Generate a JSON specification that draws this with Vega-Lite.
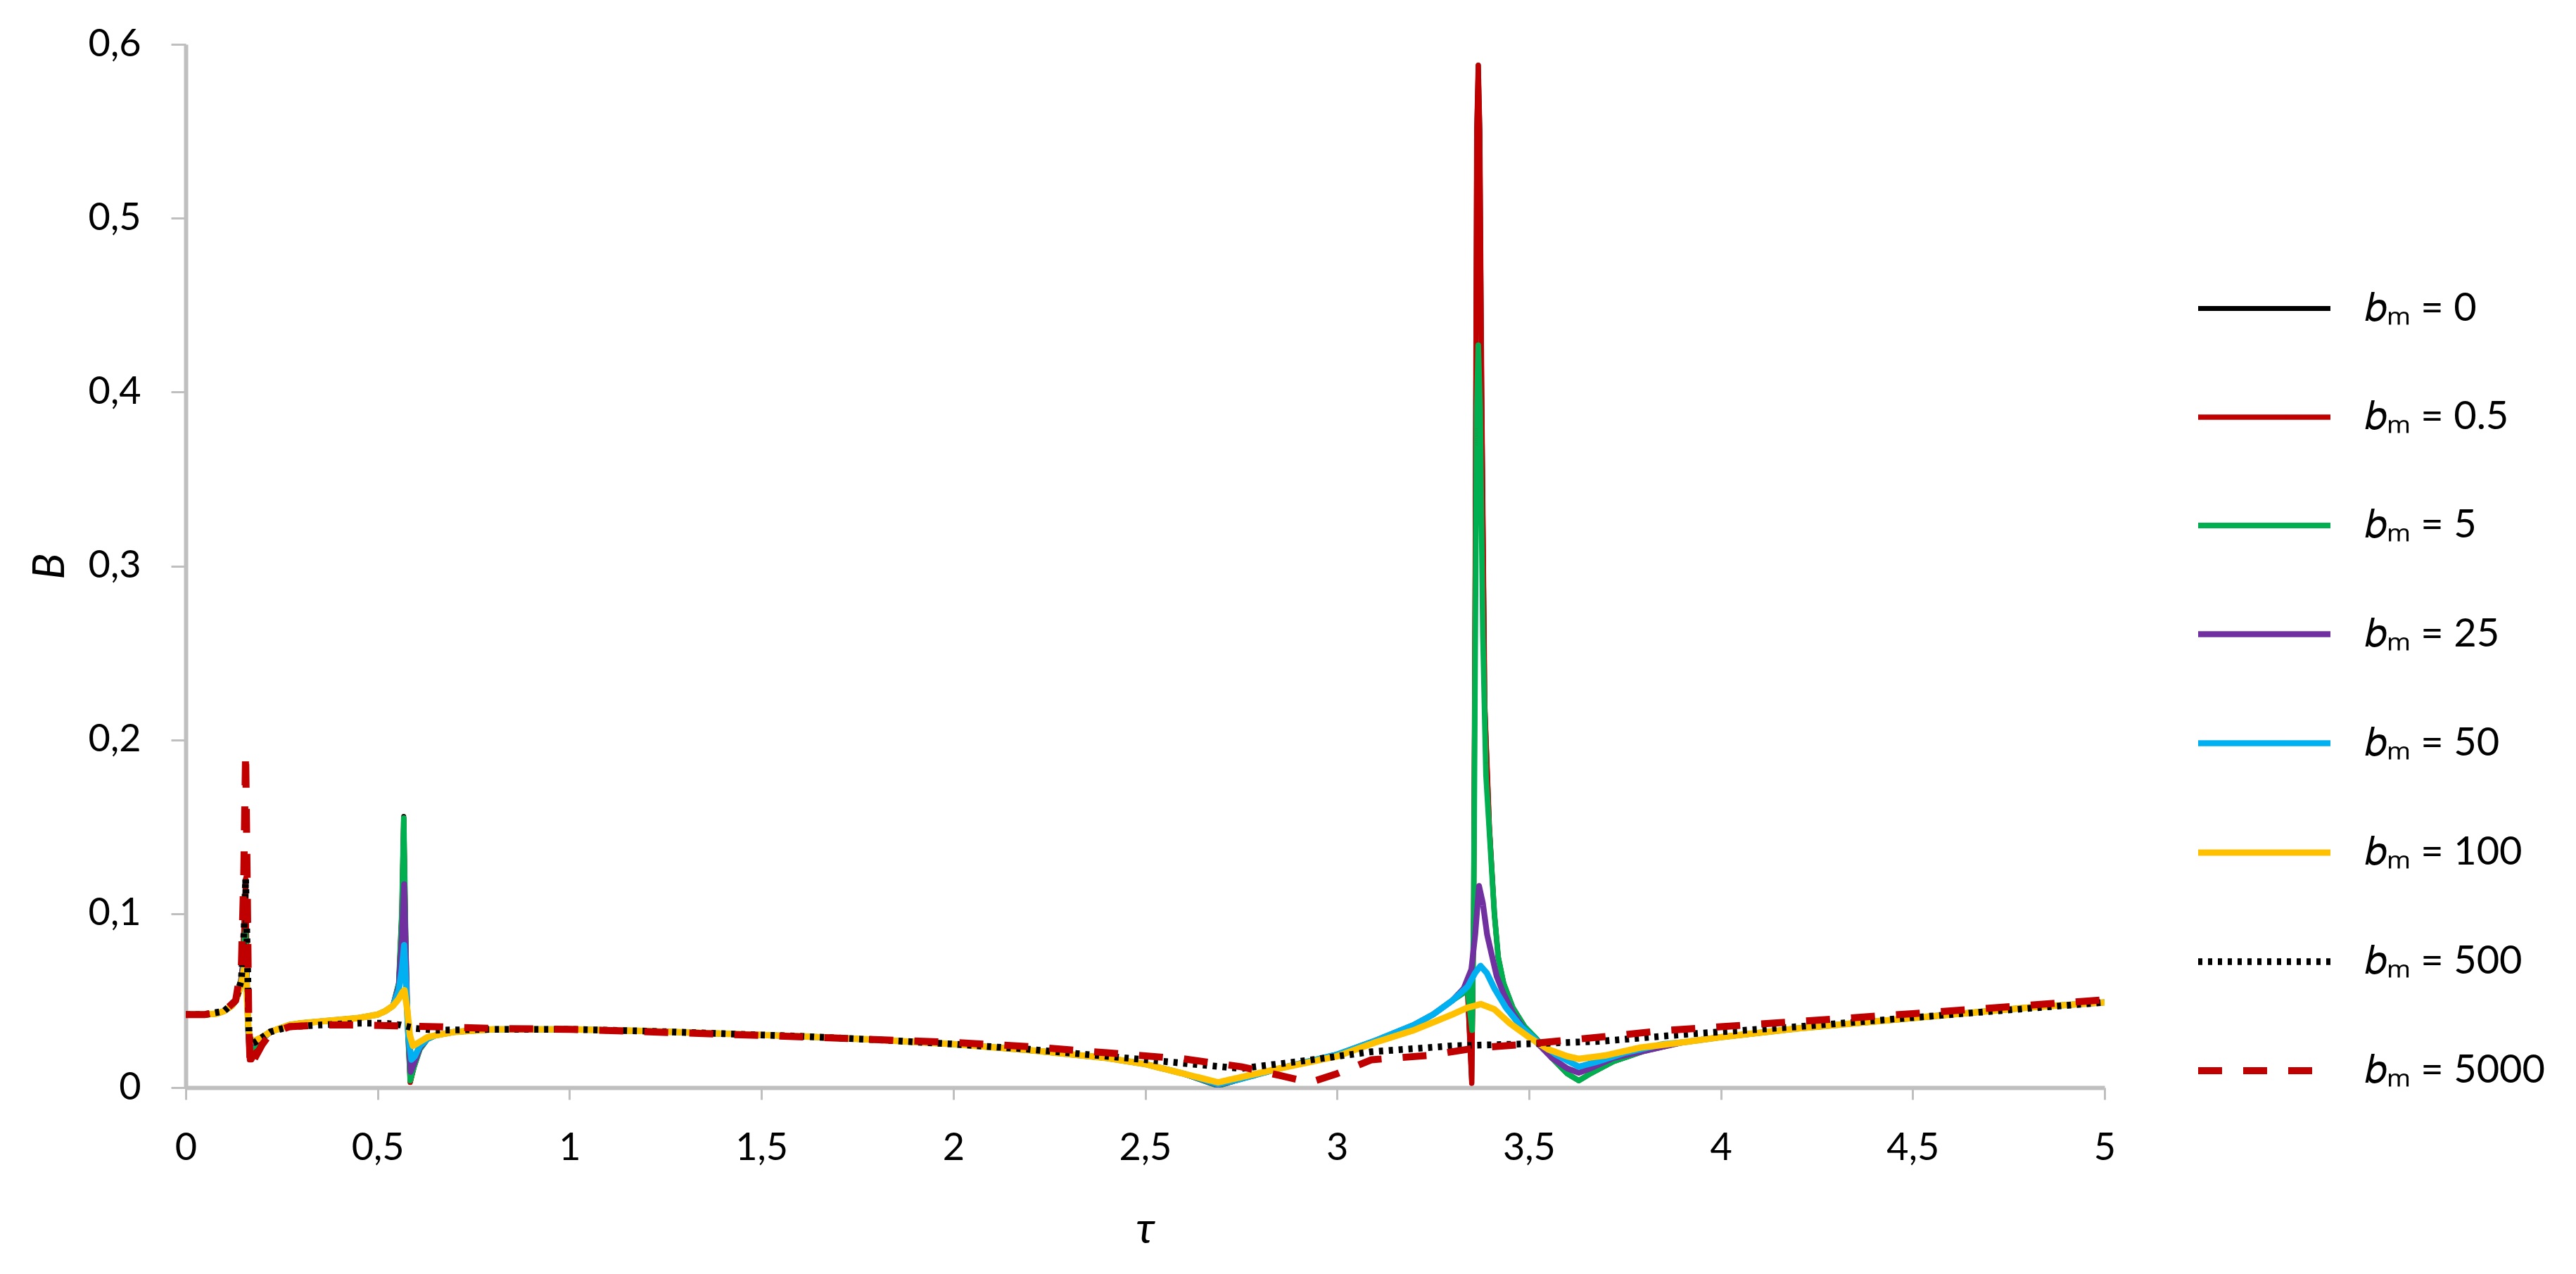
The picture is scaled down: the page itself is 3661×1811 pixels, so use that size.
{
"$schema":"https://vega.github.io/schema/vega-lite/v6.json",
"autosize":{"type":"none"},
"padding":{"left":264,"top":63,"right":670,"bottom":265},
"width":2727,"height":1483,
"background":"white",
"config":{"view":{"stroke":null},"font":"Lato"},
"data":{"values":[
{"s":"0","t":0,"B":0.042},{"s":"0","t":0.05,"B":0.042},{"s":"0","t":0.08,"B":0.0425},{"s":"0","t":0.1,"B":0.044},{"s":"0","t":0.12,"B":0.047},{"s":"0","t":0.13,"B":0.05},{"s":"0","t":0.14,"B":0.056},{"s":"0","t":0.148,"B":0.07},{"s":"0","t":0.153,"B":0.1},{"s":"0","t":0.156,"B":0.12},{"s":"0","t":0.159,"B":0.08},{"s":"0","t":0.162,"B":0.035},{"s":"0","t":0.166,"B":0.016},{"s":"0","t":0.172,"B":0.016},{"s":"0","t":0.18,"B":0.02},{"s":"0","t":0.19,"B":0.024},{"s":"0","t":0.21,"B":0.03},{"s":"0","t":0.23,"B":0.033},{"s":"0","t":0.27,"B":0.036},{"s":"0","t":0.3,"B":0.037},{"s":"0","t":0.35,"B":0.038},{"s":"0","t":0.4,"B":0.039},{"s":"0","t":0.45,"B":0.04},{"s":"0","t":0.5,"B":0.042},{"s":"0","t":0.52,"B":0.044},{"s":"0","t":0.54,"B":0.047},{"s":"0","t":0.555,"B":0.06},{"s":"0","t":0.563,"B":0.1},{"s":"0","t":0.568,"B":0.156},{"s":"0","t":0.572,"B":0.1},{"s":"0","t":0.577,"B":0.04},{"s":"0","t":0.585,"B":0.003},{"s":"0","t":0.595,"B":0.012},{"s":"0","t":0.61,"B":0.022},{"s":"0","t":0.63,"B":0.028},{"s":"0","t":0.65,"B":0.03},{"s":"0","t":0.7,"B":0.032},{"s":"0","t":0.8,"B":0.0335},{"s":"0","t":1.0,"B":0.0335},{"s":"0","t":1.2,"B":0.0325},{"s":"0","t":1.4,"B":0.031},{"s":"0","t":1.6,"B":0.0295},{"s":"0","t":1.8,"B":0.0275},{"s":"0","t":2.0,"B":0.025},{"s":"0","t":2.2,"B":0.0215},{"s":"0","t":2.4,"B":0.017},{"s":"0","t":2.5,"B":0.0135},{"s":"0","t":2.6,"B":0.008},{"s":"0","t":2.69,"B":0.001},{"s":"0","t":2.75,"B":0.005},{"s":"0","t":2.85,"B":0.011},{"s":"0","t":3.0,"B":0.019},{"s":"0","t":3.1,"B":0.027},{"s":"0","t":3.2,"B":0.036},{"s":"0","t":3.25,"B":0.042},{"s":"0","t":3.3,"B":0.05},{"s":"0","t":3.34,"B":0.056},{"s":"0","t":3.351,"B":0.0025},{"s":"0","t":3.356,"B":0.1},{"s":"0","t":3.36,"B":0.3},{"s":"0","t":3.364,"B":0.55},{"s":"0","t":3.368,"B":0.588},{"s":"0","t":3.372,"B":0.55},{"s":"0","t":3.377,"B":0.4},{"s":"0","t":3.385,"B":0.22},{"s":"0","t":3.397,"B":0.15},{"s":"0","t":3.41,"B":0.1},{"s":"0","t":3.42,"B":0.075},{"s":"0","t":3.434,"B":0.06},{"s":"0","t":3.458,"B":0.046},{"s":"0","t":3.489,"B":0.035},{"s":"0","t":3.52,"B":0.028},{"s":"0","t":3.56,"B":0.017},{"s":"0","t":3.6,"B":0.008},{"s":"0","t":3.63,"B":0.004},{"s":"0","t":3.66,"B":0.008},{"s":"0","t":3.72,"B":0.015},{"s":"0","t":3.8,"B":0.021},{"s":"0","t":3.9,"B":0.026},{"s":"0","t":4.0,"B":0.029},{"s":"0","t":4.2,"B":0.034},{"s":"0","t":4.4,"B":0.038},{"s":"0","t":4.6,"B":0.042},{"s":"0","t":4.8,"B":0.046},{"s":"0","t":5.0,"B":0.049},

{"s":"0.5","t":0,"B":0.042},{"s":"0.5","t":0.05,"B":0.042},{"s":"0.5","t":0.08,"B":0.0425},{"s":"0.5","t":0.1,"B":0.044},{"s":"0.5","t":0.12,"B":0.047},{"s":"0.5","t":0.13,"B":0.05},{"s":"0.5","t":0.14,"B":0.056},{"s":"0.5","t":0.148,"B":0.07},{"s":"0.5","t":0.153,"B":0.1},{"s":"0.5","t":0.156,"B":0.12},{"s":"0.5","t":0.159,"B":0.08},{"s":"0.5","t":0.162,"B":0.035},{"s":"0.5","t":0.166,"B":0.016},{"s":"0.5","t":0.172,"B":0.016},{"s":"0.5","t":0.18,"B":0.02},{"s":"0.5","t":0.19,"B":0.024},{"s":"0.5","t":0.21,"B":0.03},{"s":"0.5","t":0.23,"B":0.033},{"s":"0.5","t":0.27,"B":0.036},{"s":"0.5","t":0.3,"B":0.037},{"s":"0.5","t":0.35,"B":0.038},{"s":"0.5","t":0.4,"B":0.039},{"s":"0.5","t":0.45,"B":0.04},{"s":"0.5","t":0.5,"B":0.042},{"s":"0.5","t":0.52,"B":0.044},{"s":"0.5","t":0.54,"B":0.047},{"s":"0.5","t":0.555,"B":0.06},{"s":"0.5","t":0.563,"B":0.1},{"s":"0.5","t":0.568,"B":0.155},{"s":"0.5","t":0.572,"B":0.1},{"s":"0.5","t":0.577,"B":0.04},{"s":"0.5","t":0.585,"B":0.003},{"s":"0.5","t":0.595,"B":0.012},{"s":"0.5","t":0.61,"B":0.022},{"s":"0.5","t":0.63,"B":0.028},{"s":"0.5","t":0.65,"B":0.03},{"s":"0.5","t":0.7,"B":0.032},{"s":"0.5","t":0.8,"B":0.0335},{"s":"0.5","t":1.0,"B":0.0335},{"s":"0.5","t":1.2,"B":0.0325},{"s":"0.5","t":1.4,"B":0.031},{"s":"0.5","t":1.6,"B":0.0295},{"s":"0.5","t":1.8,"B":0.0275},{"s":"0.5","t":2.0,"B":0.025},{"s":"0.5","t":2.2,"B":0.0215},{"s":"0.5","t":2.4,"B":0.017},{"s":"0.5","t":2.5,"B":0.0135},{"s":"0.5","t":2.6,"B":0.008},{"s":"0.5","t":2.69,"B":0.001},{"s":"0.5","t":2.75,"B":0.005},{"s":"0.5","t":2.85,"B":0.011},{"s":"0.5","t":3.0,"B":0.019},{"s":"0.5","t":3.1,"B":0.027},{"s":"0.5","t":3.2,"B":0.036},{"s":"0.5","t":3.25,"B":0.042},{"s":"0.5","t":3.3,"B":0.05},{"s":"0.5","t":3.34,"B":0.056},{"s":"0.5","t":3.351,"B":0.0025},{"s":"0.5","t":3.356,"B":0.1},{"s":"0.5","t":3.36,"B":0.3},{"s":"0.5","t":3.364,"B":0.55},{"s":"0.5","t":3.368,"B":0.588},{"s":"0.5","t":3.372,"B":0.55},{"s":"0.5","t":3.377,"B":0.4},{"s":"0.5","t":3.385,"B":0.22},{"s":"0.5","t":3.397,"B":0.15},{"s":"0.5","t":3.41,"B":0.1},{"s":"0.5","t":3.42,"B":0.075},{"s":"0.5","t":3.434,"B":0.06},{"s":"0.5","t":3.458,"B":0.046},{"s":"0.5","t":3.489,"B":0.035},{"s":"0.5","t":3.52,"B":0.028},{"s":"0.5","t":3.56,"B":0.017},{"s":"0.5","t":3.6,"B":0.008},{"s":"0.5","t":3.63,"B":0.004},{"s":"0.5","t":3.66,"B":0.008},{"s":"0.5","t":3.72,"B":0.015},{"s":"0.5","t":3.8,"B":0.021},{"s":"0.5","t":3.9,"B":0.026},{"s":"0.5","t":4.0,"B":0.029},{"s":"0.5","t":4.2,"B":0.034},{"s":"0.5","t":4.4,"B":0.038},{"s":"0.5","t":4.6,"B":0.042},{"s":"0.5","t":4.8,"B":0.046},{"s":"0.5","t":5.0,"B":0.049},

{"s":"5","t":0,"B":0.042},{"s":"5","t":0.05,"B":0.042},{"s":"5","t":0.08,"B":0.0425},{"s":"5","t":0.1,"B":0.044},{"s":"5","t":0.12,"B":0.047},{"s":"5","t":0.13,"B":0.05},{"s":"5","t":0.14,"B":0.056},{"s":"5","t":0.148,"B":0.066},{"s":"5","t":0.153,"B":0.085},{"s":"5","t":0.156,"B":0.09},{"s":"5","t":0.159,"B":0.06},{"s":"5","t":0.163,"B":0.03},{"s":"5","t":0.168,"B":0.022},{"s":"5","t":0.18,"B":0.024},{"s":"5","t":0.2,"B":0.028},{"s":"5","t":0.22,"B":0.032},{"s":"5","t":0.27,"B":0.036},{"s":"5","t":0.3,"B":0.037},{"s":"5","t":0.35,"B":0.038},{"s":"5","t":0.4,"B":0.039},{"s":"5","t":0.45,"B":0.04},{"s":"5","t":0.5,"B":0.042},{"s":"5","t":0.52,"B":0.044},{"s":"5","t":0.54,"B":0.047},{"s":"5","t":0.555,"B":0.06},{"s":"5","t":0.563,"B":0.1},{"s":"5","t":0.568,"B":0.155},{"s":"5","t":0.572,"B":0.1},{"s":"5","t":0.577,"B":0.04},{"s":"5","t":0.585,"B":0.004},{"s":"5","t":0.595,"B":0.012},{"s":"5","t":0.61,"B":0.022},{"s":"5","t":0.63,"B":0.028},{"s":"5","t":0.65,"B":0.03},{"s":"5","t":0.7,"B":0.032},{"s":"5","t":0.8,"B":0.0335},{"s":"5","t":1.0,"B":0.0335},{"s":"5","t":1.2,"B":0.0325},{"s":"5","t":1.4,"B":0.031},{"s":"5","t":1.6,"B":0.0295},{"s":"5","t":1.8,"B":0.0275},{"s":"5","t":2.0,"B":0.025},{"s":"5","t":2.2,"B":0.0215},{"s":"5","t":2.4,"B":0.017},{"s":"5","t":2.5,"B":0.0135},{"s":"5","t":2.6,"B":0.008},{"s":"5","t":2.69,"B":0.001},{"s":"5","t":2.75,"B":0.005},{"s":"5","t":2.85,"B":0.011},{"s":"5","t":3.0,"B":0.019},{"s":"5","t":3.1,"B":0.027},{"s":"5","t":3.2,"B":0.036},{"s":"5","t":3.25,"B":0.042},{"s":"5","t":3.3,"B":0.05},{"s":"5","t":3.34,"B":0.056},{"s":"5","t":3.352,"B":0.033},{"s":"5","t":3.356,"B":0.1},{"s":"5","t":3.36,"B":0.25},{"s":"5","t":3.364,"B":0.39},{"s":"5","t":3.368,"B":0.427},{"s":"5","t":3.373,"B":0.39},{"s":"5","t":3.38,"B":0.26},{"s":"5","t":3.388,"B":0.18},{"s":"5","t":3.397,"B":0.147},{"s":"5","t":3.41,"B":0.1},{"s":"5","t":3.42,"B":0.075},{"s":"5","t":3.434,"B":0.06},{"s":"5","t":3.458,"B":0.046},{"s":"5","t":3.489,"B":0.035},{"s":"5","t":3.52,"B":0.028},{"s":"5","t":3.56,"B":0.017},{"s":"5","t":3.6,"B":0.008},{"s":"5","t":3.63,"B":0.004},{"s":"5","t":3.66,"B":0.008},{"s":"5","t":3.72,"B":0.015},{"s":"5","t":3.8,"B":0.021},{"s":"5","t":3.9,"B":0.026},{"s":"5","t":4.0,"B":0.029},{"s":"5","t":4.2,"B":0.034},{"s":"5","t":4.4,"B":0.038},{"s":"5","t":4.6,"B":0.042},{"s":"5","t":4.8,"B":0.046},{"s":"5","t":5.0,"B":0.049},

{"s":"25","t":0,"B":0.042},{"s":"25","t":0.05,"B":0.042},{"s":"25","t":0.08,"B":0.0425},{"s":"25","t":0.1,"B":0.044},{"s":"25","t":0.12,"B":0.047},{"s":"25","t":0.13,"B":0.05},{"s":"25","t":0.14,"B":0.056},{"s":"25","t":0.148,"B":0.065},{"s":"25","t":0.153,"B":0.078},{"s":"25","t":0.156,"B":0.08},{"s":"25","t":0.159,"B":0.06},{"s":"25","t":0.163,"B":0.032},{"s":"25","t":0.168,"B":0.025},{"s":"25","t":0.18,"B":0.026},{"s":"25","t":0.2,"B":0.029},{"s":"25","t":0.22,"B":0.032},{"s":"25","t":0.27,"B":0.036},{"s":"25","t":0.3,"B":0.037},{"s":"25","t":0.35,"B":0.038},{"s":"25","t":0.4,"B":0.039},{"s":"25","t":0.45,"B":0.04},{"s":"25","t":0.5,"B":0.042},{"s":"25","t":0.52,"B":0.044},{"s":"25","t":0.54,"B":0.047},{"s":"25","t":0.555,"B":0.058},{"s":"25","t":0.563,"B":0.085},{"s":"25","t":0.569,"B":0.117},{"s":"25","t":0.573,"B":0.08},{"s":"25","t":0.578,"B":0.04},{"s":"25","t":0.586,"B":0.009},{"s":"25","t":0.595,"B":0.014},{"s":"25","t":0.61,"B":0.023},{"s":"25","t":0.63,"B":0.028},{"s":"25","t":0.65,"B":0.03},{"s":"25","t":0.7,"B":0.032},{"s":"25","t":0.8,"B":0.0335},{"s":"25","t":1.0,"B":0.0335},{"s":"25","t":1.2,"B":0.0325},{"s":"25","t":1.4,"B":0.031},{"s":"25","t":1.6,"B":0.0295},{"s":"25","t":1.8,"B":0.0275},{"s":"25","t":2.0,"B":0.025},{"s":"25","t":2.2,"B":0.0215},{"s":"25","t":2.4,"B":0.017},{"s":"25","t":2.5,"B":0.0135},{"s":"25","t":2.6,"B":0.008},{"s":"25","t":2.69,"B":0.0015},{"s":"25","t":2.75,"B":0.005},{"s":"25","t":2.85,"B":0.011},{"s":"25","t":3.0,"B":0.019},{"s":"25","t":3.1,"B":0.027},{"s":"25","t":3.2,"B":0.036},{"s":"25","t":3.25,"B":0.042},{"s":"25","t":3.3,"B":0.05},{"s":"25","t":3.33,"B":0.057},{"s":"25","t":3.35,"B":0.068},{"s":"25","t":3.36,"B":0.088},{"s":"25","t":3.37,"B":0.116},{"s":"25","t":3.38,"B":0.106},{"s":"25","t":3.391,"B":0.088},{"s":"25","t":3.416,"B":0.064},{"s":"25","t":3.434,"B":0.054},{"s":"25","t":3.458,"B":0.043},{"s":"25","t":3.489,"B":0.033},{"s":"25","t":3.52,"B":0.026},{"s":"25","t":3.56,"B":0.017},{"s":"25","t":3.6,"B":0.011},{"s":"25","t":3.63,"B":0.0085},{"s":"25","t":3.66,"B":0.011},{"s":"25","t":3.72,"B":0.017},{"s":"25","t":3.8,"B":0.021},{"s":"25","t":3.9,"B":0.026},{"s":"25","t":4.0,"B":0.029},{"s":"25","t":4.2,"B":0.034},{"s":"25","t":4.4,"B":0.038},{"s":"25","t":4.6,"B":0.042},{"s":"25","t":4.8,"B":0.046},{"s":"25","t":5.0,"B":0.049},

{"s":"50","t":0,"B":0.042},{"s":"50","t":0.05,"B":0.042},{"s":"50","t":0.08,"B":0.0425},{"s":"50","t":0.1,"B":0.044},{"s":"50","t":0.12,"B":0.047},{"s":"50","t":0.13,"B":0.05},{"s":"50","t":0.14,"B":0.056},{"s":"50","t":0.148,"B":0.064},{"s":"50","t":0.153,"B":0.073},{"s":"50","t":0.156,"B":0.075},{"s":"50","t":0.159,"B":0.058},{"s":"50","t":0.163,"B":0.034},{"s":"50","t":0.168,"B":0.026},{"s":"50","t":0.18,"B":0.027},{"s":"50","t":0.2,"B":0.029},{"s":"50","t":0.22,"B":0.032},{"s":"50","t":0.27,"B":0.036},{"s":"50","t":0.3,"B":0.037},{"s":"50","t":0.35,"B":0.038},{"s":"50","t":0.4,"B":0.039},{"s":"50","t":0.45,"B":0.04},{"s":"50","t":0.5,"B":0.042},{"s":"50","t":0.52,"B":0.044},{"s":"50","t":0.54,"B":0.047},{"s":"50","t":0.555,"B":0.056},{"s":"50","t":0.563,"B":0.068},{"s":"50","t":0.569,"B":0.082},{"s":"50","t":0.574,"B":0.06},{"s":"50","t":0.58,"B":0.03},{"s":"50","t":0.588,"B":0.016},{"s":"50","t":0.597,"B":0.018},{"s":"50","t":0.61,"B":0.024},{"s":"50","t":0.63,"B":0.028},{"s":"50","t":0.65,"B":0.03},{"s":"50","t":0.7,"B":0.032},{"s":"50","t":0.8,"B":0.0335},{"s":"50","t":1.0,"B":0.0335},{"s":"50","t":1.2,"B":0.0325},{"s":"50","t":1.4,"B":0.031},{"s":"50","t":1.6,"B":0.0295},{"s":"50","t":1.8,"B":0.0275},{"s":"50","t":2.0,"B":0.025},{"s":"50","t":2.2,"B":0.0215},{"s":"50","t":2.4,"B":0.017},{"s":"50","t":2.5,"B":0.0135},{"s":"50","t":2.6,"B":0.008},{"s":"50","t":2.69,"B":0.002},{"s":"50","t":2.75,"B":0.005},{"s":"50","t":2.85,"B":0.011},{"s":"50","t":3.0,"B":0.019},{"s":"50","t":3.1,"B":0.027},{"s":"50","t":3.2,"B":0.036},{"s":"50","t":3.25,"B":0.042},{"s":"50","t":3.3,"B":0.05},{"s":"50","t":3.34,"B":0.058},{"s":"50","t":3.36,"B":0.066},{"s":"50","t":3.374,"B":0.07},{"s":"50","t":3.39,"B":0.066},{"s":"50","t":3.41,"B":0.057},{"s":"50","t":3.44,"B":0.046},{"s":"50","t":3.48,"B":0.035},{"s":"50","t":3.52,"B":0.027},{"s":"50","t":3.57,"B":0.019},{"s":"50","t":3.63,"B":0.012},{"s":"50","t":3.68,"B":0.015},{"s":"50","t":3.75,"B":0.02},{"s":"50","t":3.85,"B":0.025},{"s":"50","t":3.9,"B":0.026},{"s":"50","t":4.0,"B":0.029},{"s":"50","t":4.2,"B":0.034},{"s":"50","t":4.4,"B":0.038},{"s":"50","t":4.6,"B":0.042},{"s":"50","t":4.8,"B":0.046},{"s":"50","t":5.0,"B":0.049},

{"s":"100","t":0,"B":0.042},{"s":"100","t":0.05,"B":0.042},{"s":"100","t":0.08,"B":0.0425},{"s":"100","t":0.1,"B":0.044},{"s":"100","t":0.12,"B":0.047},{"s":"100","t":0.13,"B":0.05},{"s":"100","t":0.14,"B":0.056},{"s":"100","t":0.148,"B":0.063},{"s":"100","t":0.153,"B":0.069},{"s":"100","t":0.156,"B":0.07},{"s":"100","t":0.159,"B":0.056},{"s":"100","t":0.163,"B":0.035},{"s":"100","t":0.168,"B":0.027},{"s":"100","t":0.18,"B":0.027},{"s":"100","t":0.2,"B":0.029},{"s":"100","t":0.22,"B":0.032},{"s":"100","t":0.27,"B":0.036},{"s":"100","t":0.3,"B":0.037},{"s":"100","t":0.35,"B":0.038},{"s":"100","t":0.4,"B":0.039},{"s":"100","t":0.45,"B":0.04},{"s":"100","t":0.5,"B":0.042},{"s":"100","t":0.52,"B":0.044},{"s":"100","t":0.54,"B":0.047},{"s":"100","t":0.555,"B":0.051},{"s":"100","t":0.565,"B":0.055},{"s":"100","t":0.57,"B":0.056},{"s":"100","t":0.577,"B":0.045},{"s":"100","t":0.584,"B":0.03},{"s":"100","t":0.592,"B":0.024},{"s":"100","t":0.6,"B":0.025},{"s":"100","t":0.615,"B":0.027},{"s":"100","t":0.63,"B":0.029},{"s":"100","t":0.65,"B":0.03},{"s":"100","t":0.7,"B":0.032},{"s":"100","t":0.8,"B":0.0335},{"s":"100","t":1.0,"B":0.0335},{"s":"100","t":1.2,"B":0.0325},{"s":"100","t":1.4,"B":0.031},{"s":"100","t":1.6,"B":0.0295},{"s":"100","t":1.8,"B":0.0275},{"s":"100","t":2.0,"B":0.025},{"s":"100","t":2.2,"B":0.0215},{"s":"100","t":2.4,"B":0.017},{"s":"100","t":2.5,"B":0.0135},{"s":"100","t":2.6,"B":0.008},{"s":"100","t":2.69,"B":0.003},{"s":"100","t":2.75,"B":0.006},{"s":"100","t":2.85,"B":0.011},{"s":"100","t":3.0,"B":0.018},{"s":"100","t":3.1,"B":0.026},{"s":"100","t":3.2,"B":0.033},{"s":"100","t":3.25,"B":0.0375},{"s":"100","t":3.3,"B":0.042},{"s":"100","t":3.34,"B":0.046},{"s":"100","t":3.375,"B":0.048},{"s":"100","t":3.41,"B":0.045},{"s":"100","t":3.45,"B":0.037},{"s":"100","t":3.5,"B":0.029},{"s":"100","t":3.55,"B":0.022},{"s":"100","t":3.6,"B":0.018},{"s":"100","t":3.63,"B":0.0165},{"s":"100","t":3.7,"B":0.0185},{"s":"100","t":3.79,"B":0.023},{"s":"100","t":3.9,"B":0.026},{"s":"100","t":4.0,"B":0.029},{"s":"100","t":4.2,"B":0.034},{"s":"100","t":4.4,"B":0.038},{"s":"100","t":4.6,"B":0.042},{"s":"100","t":4.8,"B":0.046},{"s":"100","t":5.0,"B":0.049},

{"s":"500","t":0,"B":0.042},{"s":"500","t":0.05,"B":0.042},{"s":"500","t":0.1,"B":0.044},{"s":"500","t":0.13,"B":0.05},{"s":"500","t":0.145,"B":0.062},{"s":"500","t":0.152,"B":0.09},{"s":"500","t":0.156,"B":0.12},{"s":"500","t":0.16,"B":0.08},{"s":"500","t":0.165,"B":0.03},{"s":"500","t":0.17,"B":0.025},{"s":"500","t":0.18,"B":0.026},{"s":"500","t":0.2,"B":0.029},{"s":"500","t":0.22,"B":0.032},{"s":"500","t":0.27,"B":0.035},{"s":"500","t":0.35,"B":0.036},{"s":"500","t":0.45,"B":0.037},{"s":"500","t":0.52,"B":0.037},{"s":"500","t":0.56,"B":0.036},{"s":"500","t":0.6,"B":0.034},{"s":"500","t":0.65,"B":0.033},{"s":"500","t":0.8,"B":0.0335},{"s":"500","t":1.0,"B":0.0335},{"s":"500","t":1.2,"B":0.0325},{"s":"500","t":1.4,"B":0.031},{"s":"500","t":1.6,"B":0.0295},{"s":"500","t":1.8,"B":0.0275},{"s":"500","t":2.0,"B":0.025},{"s":"500","t":2.2,"B":0.022},{"s":"500","t":2.4,"B":0.018},{"s":"500","t":2.6,"B":0.014},{"s":"500","t":2.75,"B":0.011},{"s":"500","t":2.9,"B":0.015},{"s":"500","t":3.09,"B":0.0206},{"s":"500","t":3.3,"B":0.024},{"s":"500","t":3.52,"B":0.0253},{"s":"500","t":3.69,"B":0.0267},{"s":"500","t":3.93,"B":0.031},{"s":"500","t":4.2,"B":0.035},{"s":"500","t":4.6,"B":0.042},{"s":"500","t":5.0,"B":0.049},

{"s":"5000","t":0,"B":0.042},{"s":"5000","t":0.05,"B":0.042},{"s":"5000","t":0.1,"B":0.044},{"s":"5000","t":0.13,"B":0.05},{"s":"5000","t":0.145,"B":0.07},{"s":"5000","t":0.151,"B":0.12},{"s":"5000","t":0.156,"B":0.193},{"s":"5000","t":0.16,"B":0.12},{"s":"5000","t":0.164,"B":0.04},{"s":"5000","t":0.168,"B":0.011},{"s":"5000","t":0.18,"B":0.017},{"s":"5000","t":0.2,"B":0.025},{"s":"5000","t":0.22,"B":0.031},{"s":"5000","t":0.27,"B":0.035},{"s":"5000","t":0.35,"B":0.036},{"s":"5000","t":0.45,"B":0.036},{"s":"5000","t":0.55,"B":0.0355},{"s":"5000","t":0.65,"B":0.035},{"s":"5000","t":0.8,"B":0.034},{"s":"5000","t":1.0,"B":0.0335},{"s":"5000","t":1.5,"B":0.03},{"s":"5000","t":2.0,"B":0.026},{"s":"5000","t":2.2,"B":0.0235},{"s":"5000","t":2.4,"B":0.02},{"s":"5000","t":2.6,"B":0.0165},{"s":"5000","t":2.75,"B":0.012},{"s":"5000","t":2.85,"B":0.007},{"s":"5000","t":2.93,"B":0.003},{"s":"5000","t":3.0,"B":0.008},{"s":"5000","t":3.09,"B":0.016},{"s":"5000","t":3.24,"B":0.0185},{"s":"5000","t":3.36,"B":0.0227},{"s":"5000","t":3.48,"B":0.0247},{"s":"5000","t":3.61,"B":0.0275},{"s":"5000","t":3.73,"B":0.03},{"s":"5000","t":3.85,"B":0.0328},{"s":"5000","t":4.0,"B":0.035},{"s":"5000","t":4.5,"B":0.0425},{"s":"5000","t":5.0,"B":0.0505}
]},
"mark":{"type":"line","strokeJoin":"round","strokeCap":"butt","clip":true},
"encoding":{
"x":{"field":"t","type":"quantitative","scale":{"domain":[0,5],"nice":false,"zero":false},
 "axis":{"values":[0,0.5,1,1.5,2,2.5,3,3.5,4,4.5,5],"labelExpr":"replace(format(datum.value,'~g'),'.',',')","grid":false,"domainColor":"#BFBFBF","domainWidth":6,"tickColor":"#BFBFBF","tickWidth":3,"tickSize":17,"labelPadding":42,"labelFontSize":54,"labelFont":"Lato","labelColor":"#000000","title":"τ","titleFont":"Lato","titleFontSize":62,"titleFontStyle":"italic","titleFontWeight":"normal","titleColor":"#000000","titlePadding":58,"labelFlush":false}},
"y":{"field":"B","type":"quantitative","scale":{"domain":[0,0.6],"nice":false},
 "axis":{"values":[0,0.1,0.2,0.3,0.4,0.5,0.6],"labelExpr":"replace(format(datum.value,'~g'),'.',',')","grid":false,"domainColor":"#BFBFBF","domainWidth":6,"tickColor":"#BFBFBF","tickWidth":3,"tickSize":21,"labelPadding":43,"labelFontSize":54,"labelFont":"Lato","labelColor":"#000000","title":"B","titleFont":"Lato","titleFontSize":62,"titleFontStyle":"italic","titleFontWeight":"normal","titleColor":"#000000","titlePadding":22,"labelFlush":false}},
"color":{"field":"s","type":"nominal","sort":null,
 "scale":{"domain":["0","0.5","5","25","50","100","500","5000"],"range":["#000000","#C00000","#00B050","#7030A0","#00B0F0","#FFC000","#000000","#C00000"]},
 "legend":{"orient":"none","legendX":2855,"legendY":278,"title":null,"symbolType":"stroke","symbolSize":35344,"labelFontSize":56,"labelFont":"Lato","labelColor":"#000000","labelOffset":44,"labelLimit":0,"padding":0,"rowPadding":28,"labelExpr":"'𝑏ₘ = ' + datum.label"}},
"strokeDash":{"field":"s","type":"nominal","sort":null,
 "scale":{"domain":["0","0.5","5","25","50","100","500","5000"],"range":[[1,0],[1,0],[1,0],[1,0],[1,0],[1,0],[6,8],[34,30]]},
 "legend":{"orient":"none","legendX":2855,"legendY":278,"title":null,"symbolType":"stroke","symbolSize":35344,"labelFontSize":56,"labelFont":"Lato","labelColor":"#000000","labelOffset":44,"labelLimit":0,"padding":0,"rowPadding":28,"labelExpr":"'𝑏ₘ = ' + datum.label"}},
"strokeWidth":{"field":"s","type":"nominal","sort":null,
 "scale":{"domain":["0","0.5","5","25","50","100","500","5000"],"range":[7,10,10,10,10,10,7,10]},
 "legend":{"orient":"none","legendX":2855,"legendY":278,"title":null,"symbolType":"stroke","symbolSize":35344,"labelFontSize":56,"labelFont":"Lato","labelColor":"#000000","labelOffset":44,"labelLimit":0,"padding":0,"rowPadding":28,"labelExpr":"'𝑏ₘ = ' + datum.label"}}
}
}
